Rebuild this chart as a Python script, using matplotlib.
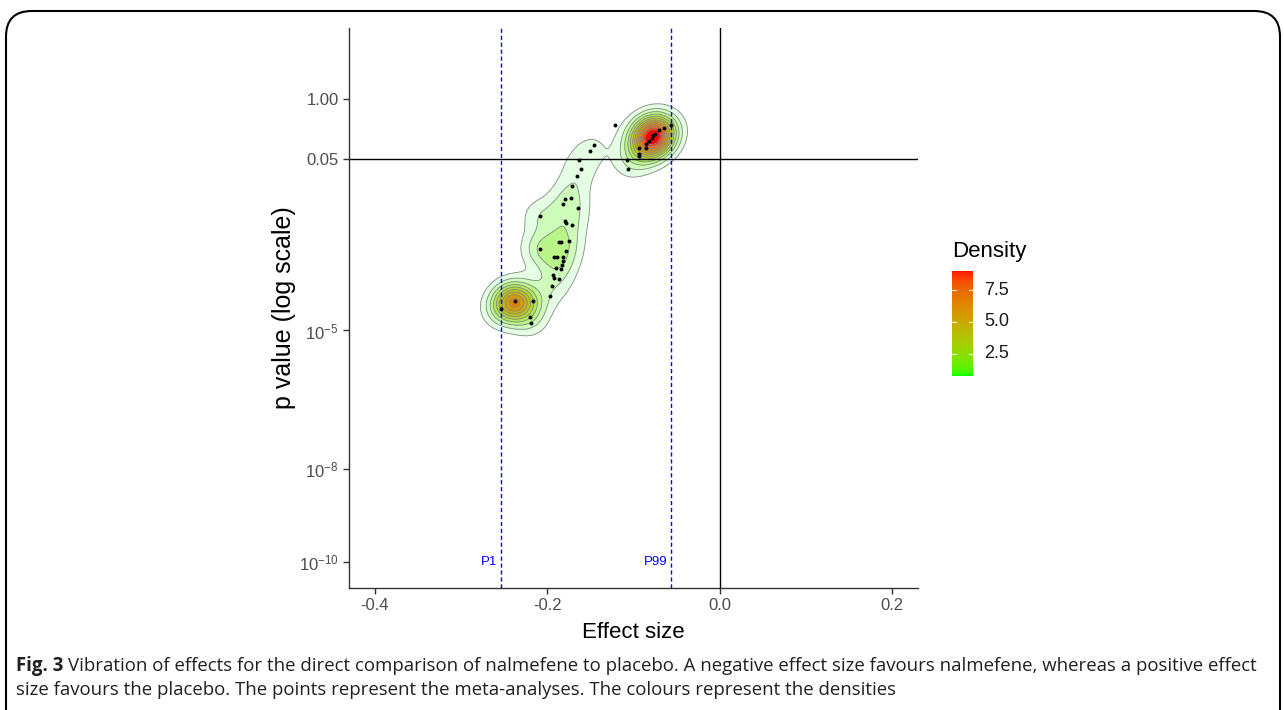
import numpy as np
import matplotlib.pyplot as plt
from matplotlib.patches import FancyBboxPatch

plt.rcParams['font.family'] = ['Liberation Sans', 'DejaVu Sans']
plt.rcParams['mathtext.fontset'] = 'custom'
plt.rcParams['mathtext.rm'] = 'Liberation Sans'
plt.rcParams['mathtext.it'] = 'Liberation Sans:italic'

# meta-analyses: effect size, log10(p value) and how many gave that same result
effect = [-0.121, -0.057, -0.065, -0.070, -0.075, -0.077, -0.079, -0.082, -0.085, -0.085,
          -0.094, -0.094, -0.094, -0.108, -0.106,
          -0.146, -0.151, -0.163, -0.161, -0.166, -0.171, -0.173, -0.179, -0.182, -0.164,
          -0.209, -0.180, -0.178, -0.171, -0.186, -0.184, -0.175, -0.209, -0.178, -0.192,
          -0.189, -0.182, -0.182, -0.183, -0.190, -0.184, -0.193, -0.192, -0.186, -0.194,
          -0.197,
          -0.238, -0.217, -0.254, -0.220, -0.219]
log_p = [-0.57, -0.57, -0.63, -0.68, -0.75, -0.79, -0.84, -0.91, -0.98, -1.05,
         -1.05, -1.18, -1.23, -1.32, -1.51,
         -0.99, -1.12, -1.33, -1.52, -1.66, -1.89, -2.13, -2.17, -2.27, -2.35,
         -2.53, -2.63, -2.67, -2.72, -3.08, -3.09, -3.07, -3.24, -3.28, -3.42,
         -3.42, -3.41, -3.49, -3.59, -3.66, -3.68, -3.81, -3.87, -3.88, -4.03,
         -4.26,
         -4.37, -4.37, -4.54, -4.71, -4.83]
count = [1, 2, 3, 6, 11, 12, 11, 7, 4, 3,
         2, 2, 2, 2, 2,
         2, 2, 2, 2, 2, 2, 2, 2, 2, 2,
         6, 2, 2, 2, 2, 2, 2, 9, 2, 1,
         1, 1, 1, 1, 1, 1, 1, 1, 1, 2,
         2,
         30, 4, 8, 3, 3]

p1, p99 = -0.254, -0.057
levels = [0.75, 1.5, 2.25, 3.0, 3.75, 4.5, 5.25, 6.0, 6.75, 7.5, 8.25, 9.0]
bar_range = (0.75, 9.0)
bar_ticks = [2.5, 5.0, 7.5]
yticks = [1, 0.05, 1e-5, 1e-8, 1e-10]
ylabels = ['1.00', '0.05', '$10^{-5}$', '$10^{-8}$', '$10^{-10}$']
xticks = [-0.4, -0.2, 0.0, 0.2]
xlabels = ['-0.4', '-0.2', '0.0', '0.2']


def green_red(t):
    # green -> red interpolated in Lab, like scale_fill_gradient
    t = np.atleast_1d(t)[:, None]
    lab = (1 - t) * np.array([87.735, -86.183, 83.179]) + t * np.array([53.241, 80.092, 67.203])
    fy = (lab[:, 0] + 16) / 116
    f = np.stack([fy + lab[:, 1] / 500, fy, fy - lab[:, 2] / 200], axis=1)
    d = 6 / 29
    xyz = np.where(f > d, f ** 3, 3 * d ** 2 * (f - 4 / 29)) * np.array([0.95047, 1.0, 1.08883])
    m = np.array([[3.2406, -1.5372, -0.4986], [-0.9689, 1.8758, 0.0415], [0.0557, -0.2040, 1.0570]])
    rgb = xyz @ m.T
    rgb = np.where(rgb > 0.0031308, 1.055 * np.clip(rgb, 0, None) ** (1 / 2.4) - 0.055, 12.92 * rgb)
    return np.clip(rgb, 0, 1)


# 2d kernel density on (effect, log10 p)
ex = np.array(effect)
ly = np.array(log_p)
w = np.array(count, dtype=float)
bx, by = 0.016, 0.29
gx = np.linspace(-0.43, 0.23, 600)
gy = np.linspace(-10.56, 1.53, 800)
X, Y = np.meshgrid(gx, gy)
Z = np.zeros_like(X)
for xi, yi, wi in zip(ex, ly, w):
    Z += wi * np.exp(-0.5 * ((X - xi) / bx) ** 2 - 0.5 * ((Y - yi) / by) ** 2)
Z /= w.sum() * 2 * np.pi * bx * by

fig = plt.figure(figsize=(12.84, 7.10), dpi=100)
ax = fig.add_axes([349 / 1284, 1 - 588 / 710, 569 / 1284, 560 / 710])
ax.set_yscale('log')

vmin, vmax = bar_range
for lv in levels:
    if lv >= Z.max():
        continue
    t = (lv - vmin) / (vmax - vmin)
    a = 0.1 + 0.9 * t
    ax.contourf(X, 10 ** Y, Z, levels=[lv, Z.max() + 1], colors=[green_red(t)[0]], alpha=a)
ax.contour(X, 10 ** Y, Z, levels=levels, colors='#8a8a8a', linewidths=0.6)

ax.scatter(ex, 10 ** ly, s=8, color='black', zorder=5, linewidths=0)

ax.axhline(0.05, color='black', lw=1)
ax.axvline(0, color='black', lw=1)
ax.axvline(p1, color='#0000ff', lw=1, ls=(0, (3, 2)))
ax.axvline(p99, color='#0000ff', lw=1, ls=(0, (3, 2)))
ax.text(p1 - 0.004, 1e-10, 'P1', color='#0000ff', fontsize=9.5, ha='right', va='center')
ax.text(p99 - 0.004, 1e-10, 'P99', color='#0000ff', fontsize=9.5, ha='right', va='center')

ax.set_xlim(-0.43, 0.23)
ax.set_ylim(10 ** -10.56, 10 ** 1.53)
ax.set_xticks(xticks, xlabels)
ax.set_yticks(yticks, ylabels)
ax.minorticks_off()
for s in ['top', 'right']:
    ax.spines[s].set_visible(False)
for s in ['left', 'bottom']:
    ax.spines[s].set_color('#333333')
    ax.spines[s].set_linewidth(1.0)
ax.tick_params(colors='#333333', labelcolor='#4d4d4d', labelsize=12, length=4, width=1)
ax.set_xlabel('Effect size', fontsize=16, labelpad=6)
ax.set_ylabel('p value (log scale)', fontsize=18, labelpad=2)

# colour bar legend
cax = fig.add_axes([952 / 1284, 1 - 376 / 710, 21 / 1284, 105 / 710])
grad = np.linspace(0, 1, 200)
cax.imshow(green_red(grad)[:, None, :], extent=[0, 1, vmin, vmax], origin='lower', aspect='auto')
cax.set_xlim(0, 1)
cax.set_ylim(vmin, vmax)
cax.axis('off')
for v in bar_ticks:
    cax.plot([0, 0.2], [v, v], color='white', lw=0.8)
    cax.plot([0.8, 1], [v, v], color='white', lw=0.8)
    cax.text(1.55, v, f'{v:.1f}', fontsize=13, color='#1a1a1a', va='center', ha='left')
fig.text(952 / 1284, 1 - 252 / 710, 'Density', fontsize=16, va='center', ha='left')

# caption
cap_font = ['Open Sans', 'DejaVu Sans']
line1 = 'Vibration of effects for the direct comparison of nalmefene to placebo. A negative effect size favours nalmefene, whereas a positive effect'
line2 = 'size favours the placebo. The points represent the meta-analyses. The colours represent the densities'
fs = 13.4
r = fig.canvas.get_renderer()
t0 = fig.text(16 / 1284, 1 - 666 / 710, 'Fig. 3', fontsize=fs, fontweight='bold', family=cap_font,
              va='center', color='#231f20')
bb = t0.get_window_extent(r)
fig.text((bb.x1 + 5) / 1284, 1 - 666 / 710, line1, fontsize=fs, family=cap_font, va='center', color='#231f20')
fig.text(16 / 1284, 1 - 690 / 710, line2, fontsize=fs, family=cap_font, va='center', color='#231f20')

frame = FancyBboxPatch((6 / 1284, -0.05), 1274 / 1284, 1 - 11 / 710 + 0.05,
                       boxstyle='round,pad=0,rounding_size=0.02', transform=fig.transFigure,
                       fill=False, ec='black', lw=1.5, mutation_aspect=1284 / 710)
fig.patches.append(frame)

fig.savefig('out.png', dpi=100)
